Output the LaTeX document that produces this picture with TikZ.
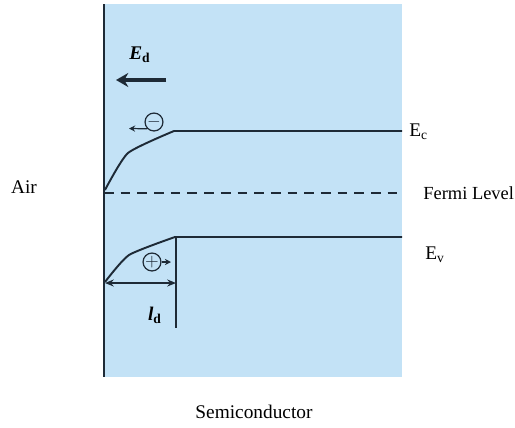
\documentclass[tikz,border=0pt]{standalone}
\usepackage{fontspec}
\setmainfont{Liberation Serif}
\usetikzlibrary{arrows.meta}
\definecolor{scBlue}{HTML}{C3E2F6}
\definecolor{scInk}{HTML}{1E2A36}
\tikzset{
  sc wall/.style={draw=scInk, line width=1.4pt},
  sc band/.style={draw=scInk, line width=1.1pt},
  sc fermi/.style={draw=scInk, dash pattern=on 5.5pt off 4pt, line width=1pt},
  sc field/.style={draw=scInk, line width=2.2pt, -{Stealth[length=7pt,width=8pt]}},
  sc drift/.style={draw=scInk, line width=0.7pt, -{Stealth[length=3.5pt,width=3.5pt]}},
  sc width/.style={draw=scInk, line width=1pt, {Stealth[length=5pt,width=4pt]}-{Stealth[length=5pt,width=4pt]}},
  sc carrier/.style={circle, draw=scInk, line width=0.7pt, minimum size=3.1mm, inner sep=0pt, font=\fontsize{10}{10}\selectfont\bfseries, text=scInk},
  sc label/.style={font=\fontsize{11}{13}\selectfont, text=black, inner sep=0pt},
  sc symbol/.style={sc label, font=\fontsize{11}{13}\selectfont\bfseries\itshape},
}

\begin{document}
\begin{tikzpicture}[x=0.02cm, y=-0.02cm]
  \useasboundingbox (0,0) rectangle (515,427);

  % Semiconductor region and surface
  \fill[scBlue] (104,4) rectangle (402,377);
  \coordinate (surfTop) at (104,4);
  \coordinate (surfBot) at (104,377);
  \draw[sc wall] (surfTop) -- (surfBot);

  % Conduction band, bent up towards the surface
  \coordinate (ecSurf) at (105,190);
  \coordinate (ecFlat) at (174,131);
  \coordinate (ecEnd) at (402,131);
  \draw[sc band] plot[smooth, tension=0.35] coordinates {(ecSurf) (128,153) (ecFlat)} -- (ecEnd);

  % Valence band
  \coordinate (evSurf) at (105,282);
  \coordinate (evFlat) at (175,237);
  \coordinate (evEnd) at (402,237);
  \draw[sc band] plot[smooth, tension=0.35] coordinates {(evSurf) (129,255) (evFlat)} -- (evEnd);

  % Fermi level
  \coordinate (efLeft) at (104,193);
  \coordinate (efRight) at (402,193);
  \draw[sc fermi] (efLeft) -- (efRight);

  % Depletion width
  \coordinate (ldTop) at (176,238);
  \coordinate (ldBot) at (176,328);
  \draw[sc band, line width=0.9pt] (ldTop) -- (ldBot);
  \coordinate (ldLeft) at (105,283);
  \coordinate (ldRight) at (176,283);
  \draw[sc width] (ldLeft) -- (ldRight);
  \node[sc symbol] (ld) at (155,315) {l\textsubscript{\upshape d}};

  % Surface field
  \node[sc symbol] (Ed) at (140,55) {E\textsubscript{\upshape d}};
  \coordinate (fieldStart) at (166,80);
  \coordinate (fieldEnd) at (116,80);
  \draw[sc field] (fieldStart) -- (fieldEnd);

  % Carriers and their drift
  \node[sc carrier] (electron) at (154,122) {$-$};
  \coordinate (eDrift) at (129,128.5);
  \draw[sc drift] (electron.south west) -- (eDrift);
  \node[sc carrier] (hole) at (152,262) {$+$};
  \coordinate (hDrift) at (171,262);
  \draw[sc drift] (hole.east) -- (hDrift);

  % Labels
  \node[sc label] (air) at (24,187) {Air};
  \node[sc label, anchor=west] (ecLabel) at (409,132) {E\textsubscript{c}};
  \node[sc label, anchor=west, font=\fontsize{10.5}{12}\selectfont] (efLabel) at (423,193) {Fermi Level};
  \node[sc label, anchor=west] (evLabel) at (425,255) {E\textsubscript{v}};
  \node[sc label] (semi) at (254,412) {Semiconductor};
\end{tikzpicture}
\end{document}
